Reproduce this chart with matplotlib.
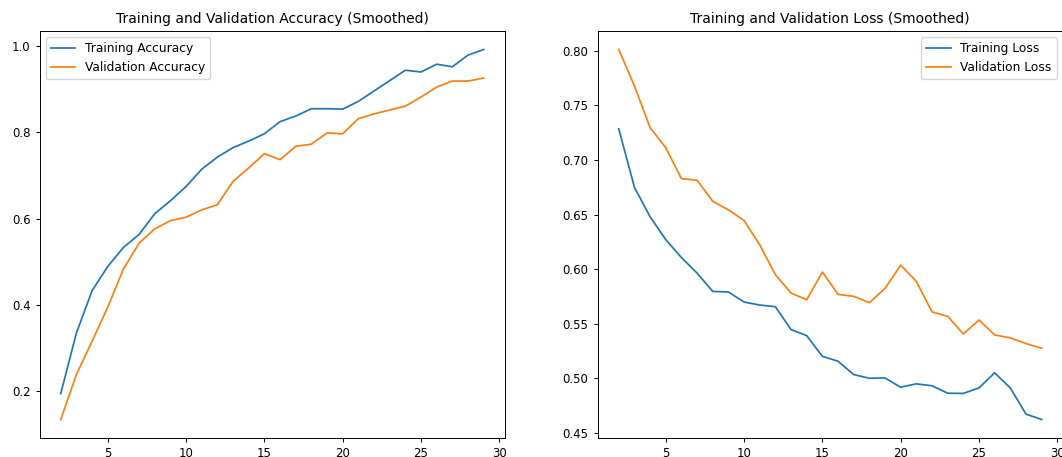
import matplotlib
matplotlib.use('Agg')
import matplotlib.pyplot as plt

# epochs shown after smoothing
epochs = list(range(2, 30))

train_acc = [0.195, 0.335, 0.433, 0.489, 0.533, 0.563, 0.611, 0.641, 0.674, 0.714,
             0.742, 0.764, 0.779, 0.796, 0.824, 0.837, 0.854, 0.854, 0.853, 0.871,
             0.895, 0.919, 0.943, 0.939, 0.957, 0.951, 0.978, 0.991]
val_acc = [0.135, 0.239, 0.316, 0.395, 0.483, 0.543, 0.576, 0.595, 0.603, 0.620,
           0.632, 0.686, 0.717, 0.750, 0.736, 0.767, 0.772, 0.798, 0.796, 0.831,
           0.842, 0.851, 0.860, 0.881, 0.904, 0.918, 0.918, 0.925]

train_loss = [0.7286, 0.675, 0.648, 0.627, 0.6106, 0.5963, 0.5795, 0.579, 0.5698, 0.567,
              0.5655, 0.5445, 0.539, 0.520, 0.5155, 0.5033, 0.4999, 0.5002, 0.4917, 0.4948,
              0.493, 0.4862, 0.486, 0.4911, 0.5049, 0.491, 0.467, 0.4621]
val_loss = [0.8013, 0.768, 0.7296, 0.7113, 0.6829, 0.6814, 0.6622, 0.6543, 0.6445, 0.6222,
            0.5948, 0.578, 0.5719, 0.5973, 0.5768, 0.575, 0.5692, 0.5823, 0.6036, 0.5887,
            0.5607, 0.5567, 0.5405, 0.5533, 0.5396, 0.5369, 0.5317, 0.5274]

plt.rcParams['font.size'] = 8.5
plt.rcParams['lines.linewidth'] = 1.25
plt.rcParams['axes.linewidth'] = 0.7

W, H = 1062, 457
fig = plt.figure(figsize=(W / 100, H / 100), dpi=100)

# axes boxes in pixels: left, bottom, width, height
ax1 = fig.add_axes([39.6 / W, 19 / H, 465.2 / W, 407 / H])
ax2 = fig.add_axes([597.6 / W, 19 / H, 465.2 / W, 407 / H])

ax1.plot(epochs, train_acc, label='Training Accuracy')
ax1.plot(epochs, val_acc, label='Validation Accuracy')
ax1.set_title('Training and Validation Accuracy (Smoothed)', fontsize=10)
ax1.legend(loc='upper left', fontsize=8.8)

ax2.plot(epochs, train_loss, label='Training Loss')
ax2.plot(epochs, val_loss, label='Validation Loss')
ax2.set_title('Training and Validation Loss (Smoothed)', fontsize=10)
ax2.legend(loc='upper right', fontsize=8.8)

for ax in (ax1, ax2):
    ax.set_xticks([5, 10, 15, 20, 25, 30])
    ax.tick_params(length=3, width=0.7)

fig.savefig('out.png', dpi=100)
